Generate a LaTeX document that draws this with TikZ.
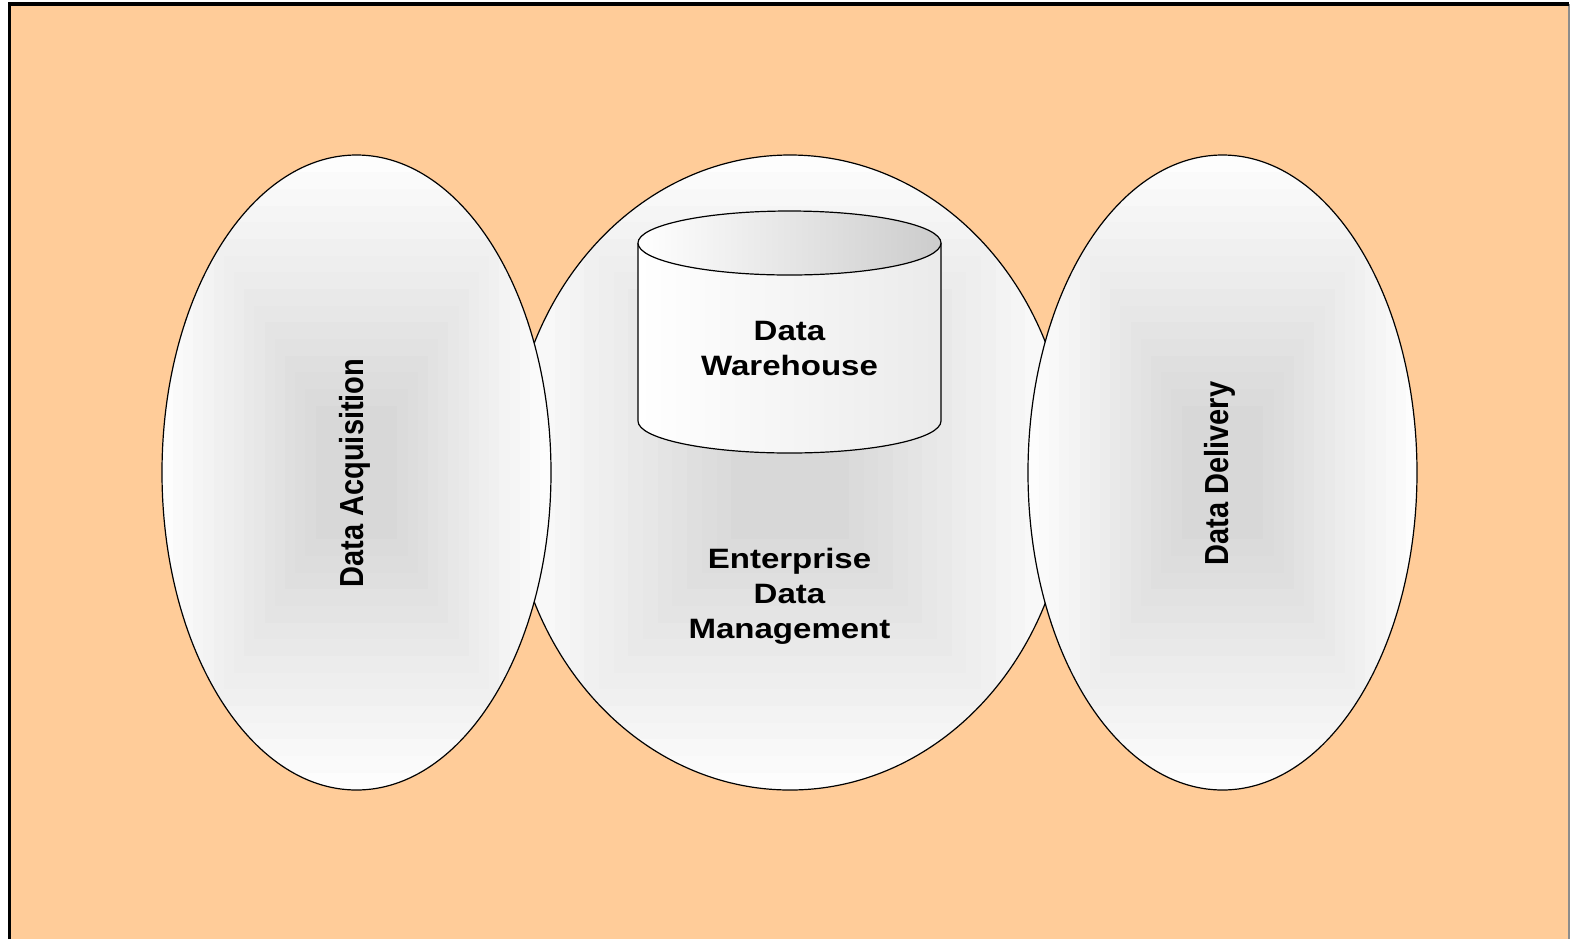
\documentclass[tikz,border=0pt]{standalone}
\usepackage{fontspec}
\setmainfont{Liberation Sans}
\definecolor{peach}{HTML}{FFCC99}
\tikzset{
  outline/.style={draw=black, line width=0.6pt},
  label/.style={font=\bfseries\fontsize{14}{17.5}\selectfont, align=center, text=black, inner sep=0pt},
  sidelabel/.style={font=\bfseries\fontsize{14.5}{17.5}\selectfont, text=black, inner sep=0pt}
}
% rectangular grey-to-white banding inside an ellipse: centre x, centre y, x radius, y radius
\newcommand{\bandedregion}[4]{%
  \begin{scope}
    \clip (#1,#2) ellipse [x radius=#3, y radius=#4];
    \fill[white] (#1-#3,#2-#4) rectangle (#1+#3,#2+#4);
    \foreach \k in {1,...,16}{%
      \pgfmathsetmacro{\t}{\k/20}%
      \pgfmathsetmacro{\shadeamt}{19*\t}%
      \fill[black!\shadeamt] (#1-#3*1.05+#3*1.05*\t,#2-#4*1.05+#4*1.05*\t) rectangle (#1+#3*1.05-#3*1.05*\t,#2+#4*1.05-#4*1.05*\t);
    }
  \end{scope}
  \draw[outline] (#1,#2) ellipse [x radius=#3, y radius=#4];
}
\begin{document}
\begin{tikzpicture}[x=0.5pt,y=-0.5pt]
\useasboundingbox (0,0) rectangle (1571,939);
% page background and frame
\fill[white] (0,0) rectangle (1571,939);
\fill[peach] (9.5,4) rectangle (1569,939);
\draw[black!45, line width=0.6pt] (1569,4) -- (1569,939);
\draw[black, line width=1.6pt] (9.5,939) -- (9.5,4) -- (1569,4);

% central region, then the two side regions over it
\bandedregion{790}{472.5}{280}{317.5}
\bandedregion{356.5}{472.5}{194.5}{317.5}
\bandedregion{1222.5}{472.5}{194.5}{317.5}

% warehouse drum
\shade[left color=white, right color=black!8] (638,243) -- (638,421) arc [start angle=180, end angle=0, x radius=151.5, y radius=32] -- (941,243) -- cycle;
\draw[outline] (638,243) -- (638,421) arc [start angle=180, end angle=0, x radius=151.5, y radius=32] -- (941,243);
\shade[outline, left color=white, right color=black!20] (789.5,243) ellipse [x radius=151.5, y radius=32];

% labels
\node[label] (dw) at (789.5,350.5) {\scalebox{1.18}[1]{\begin{tabular}{@{}c@{}}Data\\Warehouse\end{tabular}}};
\node[label] (edm) at (789.5,596) {\scalebox{1.18}[1]{\begin{tabular}{@{}c@{}}Enterprise\\Data\\Management\end{tabular}}};
\node[sidelabel] (acq) at (355,473) {\scalebox{1.15}[1]{\rotatebox{90}{Data Acquisition}}};
\node[sidelabel] (del) at (1220,473.5) {\scalebox{1.15}[1]{\rotatebox{90}{Data Delivery}}};
\end{tikzpicture}
\end{document}
